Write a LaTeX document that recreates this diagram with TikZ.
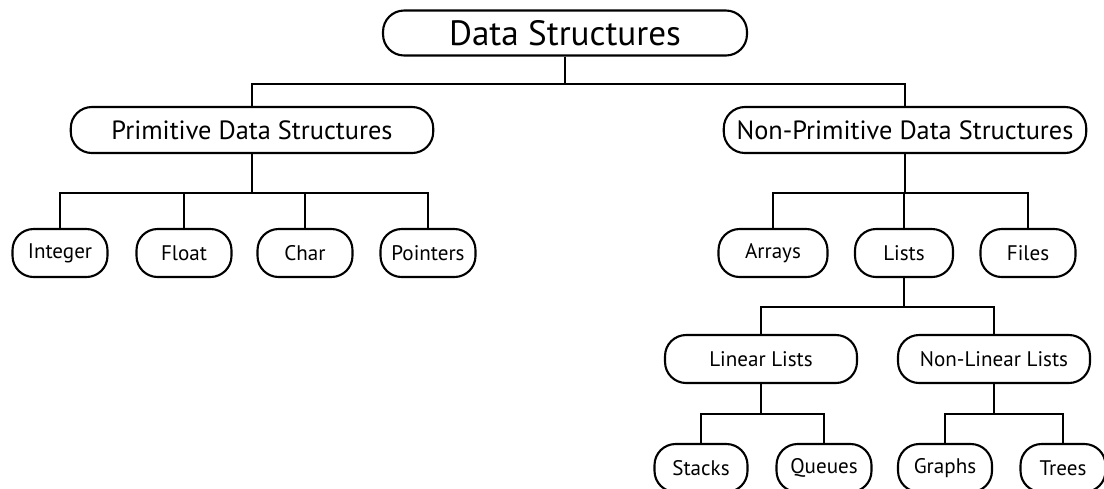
\documentclass[tikz,border=0pt]{standalone}
\usepackage{fontspec}
\setmainfont{PT Sans}

\begin{document}
\begin{tikzpicture}[
  x=0.02cm, y=-0.02cm, line width=1.2pt,
  pill/.style={draw,rounded corners=12pt,inner sep=0pt},
  rootbox/.style={pill,minimum width=7.28cm,minimum height=0.9cm,font=\fontsize{20}{24}\selectfont},
  groupbox/.style={pill,minimum width=7.25cm,minimum height=0.92cm,font=\fontsize{15}{18}\selectfont},
  kindbox/.style={pill,minimum width=3.84cm,minimum height=0.96cm,font=\fontsize{12}{14}\selectfont},
  leafbox/.style={pill,minimum width=1.9cm,minimum height=0.96cm,font=\fontsize{12}{14}\selectfont}
]
  \useasboundingbox (0,0) rectangle (1104,488);
  \node[rootbox] (ds) at (565,33) {Data Structures};
  \node[groupbox] (pds) at (252,130) {Primitive Data Structures};
  \node[groupbox] (npds) at (905,130) {Non-Primitive Data Structures};
  \node[leafbox] (int) at (60,253) {Integer};
  \node[leafbox] (flt) at (184,253) {Float};
  \node[leafbox] (chr) at (305,253) {Char};
  \node[leafbox] (ptr) at (428,253) {Pointers};
  \node[leafbox,minimum width=2.18cm] (arr) at (773,253) {Arrays};
  \node[leafbox,minimum width=1.96cm] (lst) at (904,253) {Lists};
  \node[leafbox] (fil) at (1028,253) {Files};
  \node[kindbox] (lin) at (761,359) {Linear Lists};
  \node[kindbox] (nlin) at (994,359) {Non-Linear Lists};
  \node[leafbox,minimum width=1.86cm] (stk) at (701,468) {Stacks};
  \node[leafbox] (que) at (824,468) {Queues};
  \node[leafbox,minimum width=1.88cm] (gra) at (945,468) {Graphs};
  \node[leafbox,minimum width=1.7cm] (tre) at (1063,468) {Trees};
  \draw (ds.south) -- ++(0,27) -| (pds.north);
  \draw (ds.south) -- ++(0,27) -| (npds.north);
  \draw (pds.south) -- ++(0,39) -| (int.north);
  \draw (pds.south) -- ++(0,39) -| (flt.north);
  \draw (pds.south) -- ++(0,39) -| (chr.north);
  \draw (pds.south) -- ++(0,39) -| (ptr.north);
  \draw (npds.south) -- ++(0,39) -| (arr.north);
  \draw (npds.south) -- ++(0,39) -| (lst.north);
  \draw (npds.south) -- ++(0,39) -| (fil.north);
  \draw (lst.south) -- ++(0,29) -| (lin.north);
  \draw (lst.south) -- ++(0,29) -| (nlin.north);
  \draw (lin.south) -- ++(0,30) -| (stk.north);
  \draw (lin.south) -- ++(0,30) -| (que.north);
  \draw (nlin.south) -- ++(0,30) -| (gra.north);
  \draw (nlin.south) -- ++(0,30) -| (tre.north);
\end{tikzpicture}
\end{document}
